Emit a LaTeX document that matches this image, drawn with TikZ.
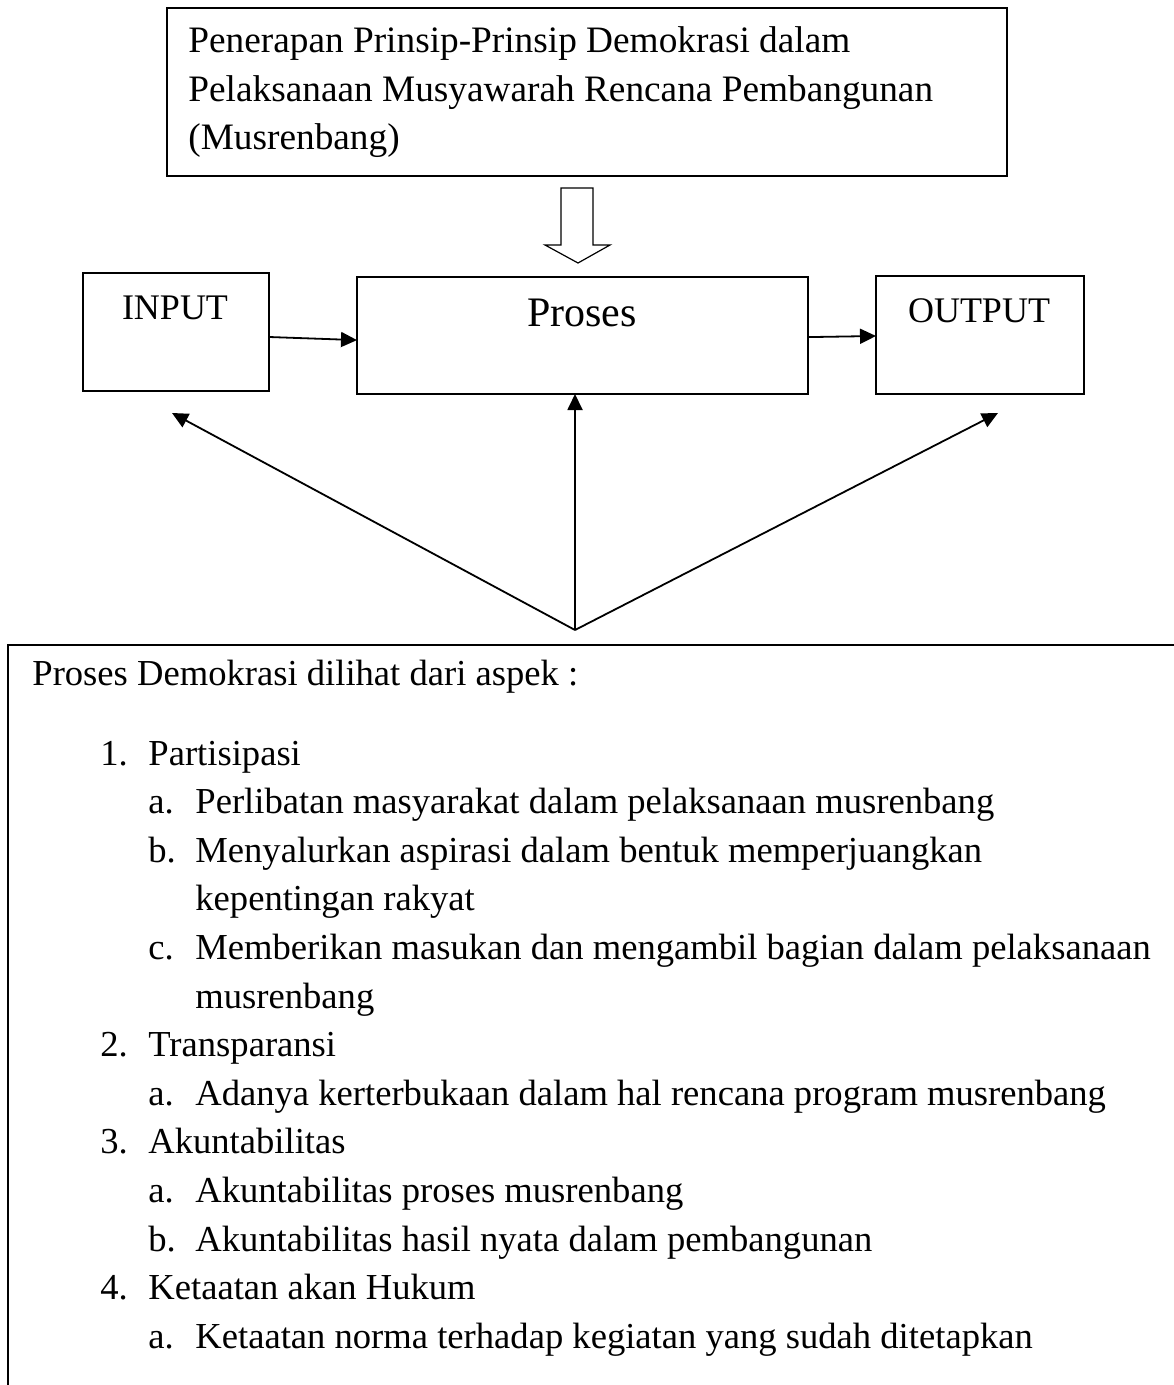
\documentclass[tikz,border=0pt]{standalone}
\usepackage{fontspec}
\setmainfont{Liberation Serif}
\usetikzlibrary{arrows.meta}

\begin{document}
\begin{tikzpicture}[x=0.5pt,y=-0.5pt,
	blk/.style={draw, line width=0.9pt, inner sep=0pt, outer sep=0pt, anchor=north west},
	txt/.style={anchor=base west, inner sep=0pt, font=\fontsize{18.3pt}{22pt}\selectfont},
	lbl/.style={anchor=base, inner sep=0pt, font=\fontsize{18pt}{22pt}\selectfont},
	conn/.style={line width=0.9pt, -{Triangle[length=8pt,width=7.5pt]}}]
		% Parameters
		\def\ybase{685}
		\def\yfirst{765}
		\def\yskip{48.6}
		
		\useasboundingbox (0,0) rectangle (1173,1385);
		
		%title
		\node[blk, minimum width=420pt, minimum height=84pt] (judul) at (167,8) {};
		\foreach \t [count=\i] in {Penerapan Prinsip-Prinsip Demokrasi dalam,
			Pelaksanaan Musyawarah Rencana Pembangunan,
			(Musrenbang)} {
			\node[txt, font=\fontsize{18.65pt}{22pt}\selectfont] (judul\i) at (188, {53+(\i-1)*48.5}) {\t};
		}
		
		%hollow arrow
		\draw[line width=0.6pt] (561,188) -- (593,188) -- (593,245) -- (610,245) -- (578,263) -- (545,245) -- (561,245) -- cycle;
		
		%blocks
		\node[blk, minimum width=93pt, minimum height=59pt] (input) at (83,273) {};
		\node[blk, minimum width=225.5pt, minimum height=58.5pt] (proses) at (357,277) {};
		\node[blk, minimum width=104pt, minimum height=59pt] (output) at (876,276) {};
		\node[lbl] (inputlbl) at (175,320) {INPUT};
		\node[lbl, font=\fontsize{21pt}{25pt}\selectfont] (proseslbl) at (582,327) {Proses};
		\node[lbl] (outputlbl) at (979,322) {OUTPUT};
		
		\draw[conn] ([yshift=-2.5pt]input.east) -- ([yshift=-2.3pt]proses.west);
		\draw[conn] ([yshift=-0.8pt]proses.east) -- ([yshift=-0.5pt]output.west);
		
		%aspects
		\coordinate (hub) at (575,630);
		\coordinate (kiri) at (172,413);
		\coordinate (kanan) at (998,413);
		\draw[conn] (hub) -- (kiri);
		\draw[conn] (hub) -- (hub |- proses.south);
		\draw[conn] (hub) -- (kanan);
		
		\draw[line width=0.9pt] (1180,645) -- (8,645) -- (8,1390);
		\node[txt] (aspek) at (32,\ybase) {Proses Demokrasi dilihat dari aspek :};
		
		\foreach \lx/\lb/\tx/\t [count=\i] in {
			100/1./148/Partisipasi,
			148/a./195/Perlibatan masyarakat dalam pelaksanaan musrenbang,
			148/b./195/Menyalurkan aspirasi dalam bentuk memperjuangkan,
			148//195/kepentingan rakyat,
			148/c./195/Memberikan masukan dan mengambil bagian dalam pelaksanaan,
			148//195/musrenbang,
			100/2./148/Transparansi,
			148/a./195/Adanya kerterbukaan dalam hal rencana program musrenbang,
			100/3./148/Akuntabilitas,
			148/a./195/Akuntabilitas proses musrenbang,
			148/b./195/Akuntabilitas hasil nyata dalam pembangunan,
			100/4./148/Ketaatan akan Hukum,
			148/a./195/Ketaatan norma terhadap kegiatan yang sudah ditetapkan} {
			\node[txt] (nomor\i) at (\lx, {\yfirst+(\i-1)*\yskip}) {\lb};
			\node[txt] (isi\i) at (\tx, {\yfirst+(\i-1)*\yskip}) {\t};
		}
\end{tikzpicture}
\end{document}
